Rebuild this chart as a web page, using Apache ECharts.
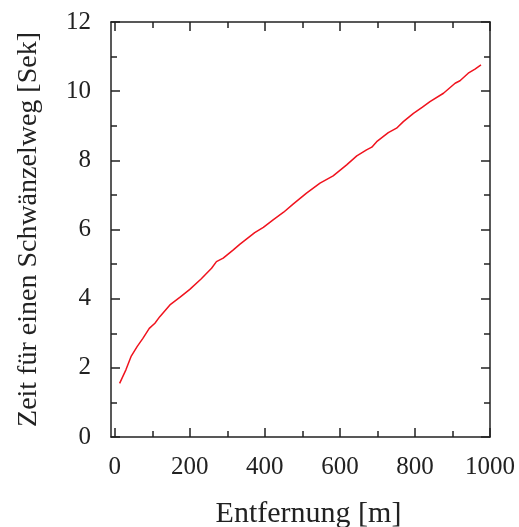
<!DOCTYPE html>
<html>
<head>
<meta charset="utf-8">
<script src="https://cdn.jsdelivr.net/npm/echarts@6/dist/echarts.min.js"></script>
<style>
  html, body { margin: 0; padding: 0; background: #fff; }
  #chart { width: 519px; height: 527px; }
</style>
</head>
<body>
<div id="chart"></div>
<script>
// Zeit pro Schwänzelweg über Entfernung
const entfernung = [13, 30, 44, 60, 75, 92, 107, 120, 147, 175, 200, 230, 258, 271, 289, 316, 333, 373, 396, 422, 450, 476, 511, 547, 582, 618, 645, 671, 685, 698, 729, 751, 769, 796, 820, 840, 876, 907, 920, 942, 960, 976];
const zeit = [1.55, 1.95, 2.34, 2.62, 2.85, 3.14, 3.29, 3.48, 3.82, 4.05, 4.27, 4.57, 4.88, 5.07, 5.17, 5.41, 5.57, 5.91, 6.06, 6.28, 6.50, 6.74, 7.05, 7.34, 7.55, 7.87, 8.13, 8.30, 8.38, 8.54, 8.80, 8.93, 9.12, 9.36, 9.54, 9.70, 9.94, 10.23, 10.30, 10.52, 10.64, 10.76];

const xMajor = [0, 200, 400, 600, 800, 1000];
const xMinor = [100, 300, 500, 700, 900];
const yMajor = [0, 2, 4, 6, 8, 10, 12];
const yMinor = [1, 3, 5, 7, 9, 11];

const font = 'Liberation Serif';
const ink = '#222';

let chart = echarts.init(document.getElementById('chart'));

const makeAxis = (pos, range, ticks, len, line, labels, margin) => ({
  type: 'value', position: pos, min: range[0], max: range[1],
  splitLine: { show: false },
  axisLine: { show: line, onZero: false, lineStyle: { color: ink, width: 1.5 } },
  axisTick: { show: true, inside: true, length: len, customValues: ticks, lineStyle: { color: ink, width: 1.5 } },
  axisLabel: labels ? {
    show: true, customValues: ticks, margin: margin,
    fontFamily: font, fontSize: 25, color: ink,
    formatter: (v) => String(v)
  } : { show: false }
});

let xBottom = makeAxis('bottom', [-10, 1000], xMajor, 9, true, true, 18);
xBottom.name = 'Entfernung [m]';
xBottom.nameLocation = 'middle';
xBottom.nameGap = 62;
xBottom.nameTextStyle = { fontFamily: font, fontSize: 30, color: ink, padding: [0, 0, 0, 16] };

let yLeft = makeAxis('left', [0, 12], yMajor, 9, true, true, 20);
yLeft.name = 'Zeit für einen Schwänzelweg [Sek]';
yLeft.nameLocation = 'middle';
yLeft.nameGap = 68;
yLeft.nameTextStyle = { fontFamily: font, fontSize: 28, color: ink };

let option = {
  animation: false,
  grid: { left: 111, right: 29, top: 22, bottom: 90, containLabel: false, outerBoundsMode: 'none' },
  xAxis: [
    xBottom,
    makeAxis('bottom', [-10, 1000], xMinor, 6, false, false),
    makeAxis('top', [-10, 1000], xMajor, 9, true, false),
    makeAxis('top', [-10, 1000], xMinor, 6, false, false)
  ],
  yAxis: [
    yLeft,
    makeAxis('left', [0, 12], yMinor, 6, false, false),
    makeAxis('right', [0, 12], yMajor, 9, true, false),
    makeAxis('right', [0, 12], yMinor, 6, false, false)
  ],
  series: [{
    type: 'line',
    xAxisIndex: 0, yAxisIndex: 0,
    data: entfernung.map((x, i) => [x, zeit[i]]),
    showSymbol: false,
    lineStyle: { color: '#f0131e', width: 1.5 }
  }]
};
chart.setOption(option);
</script>
</body>
</html>
